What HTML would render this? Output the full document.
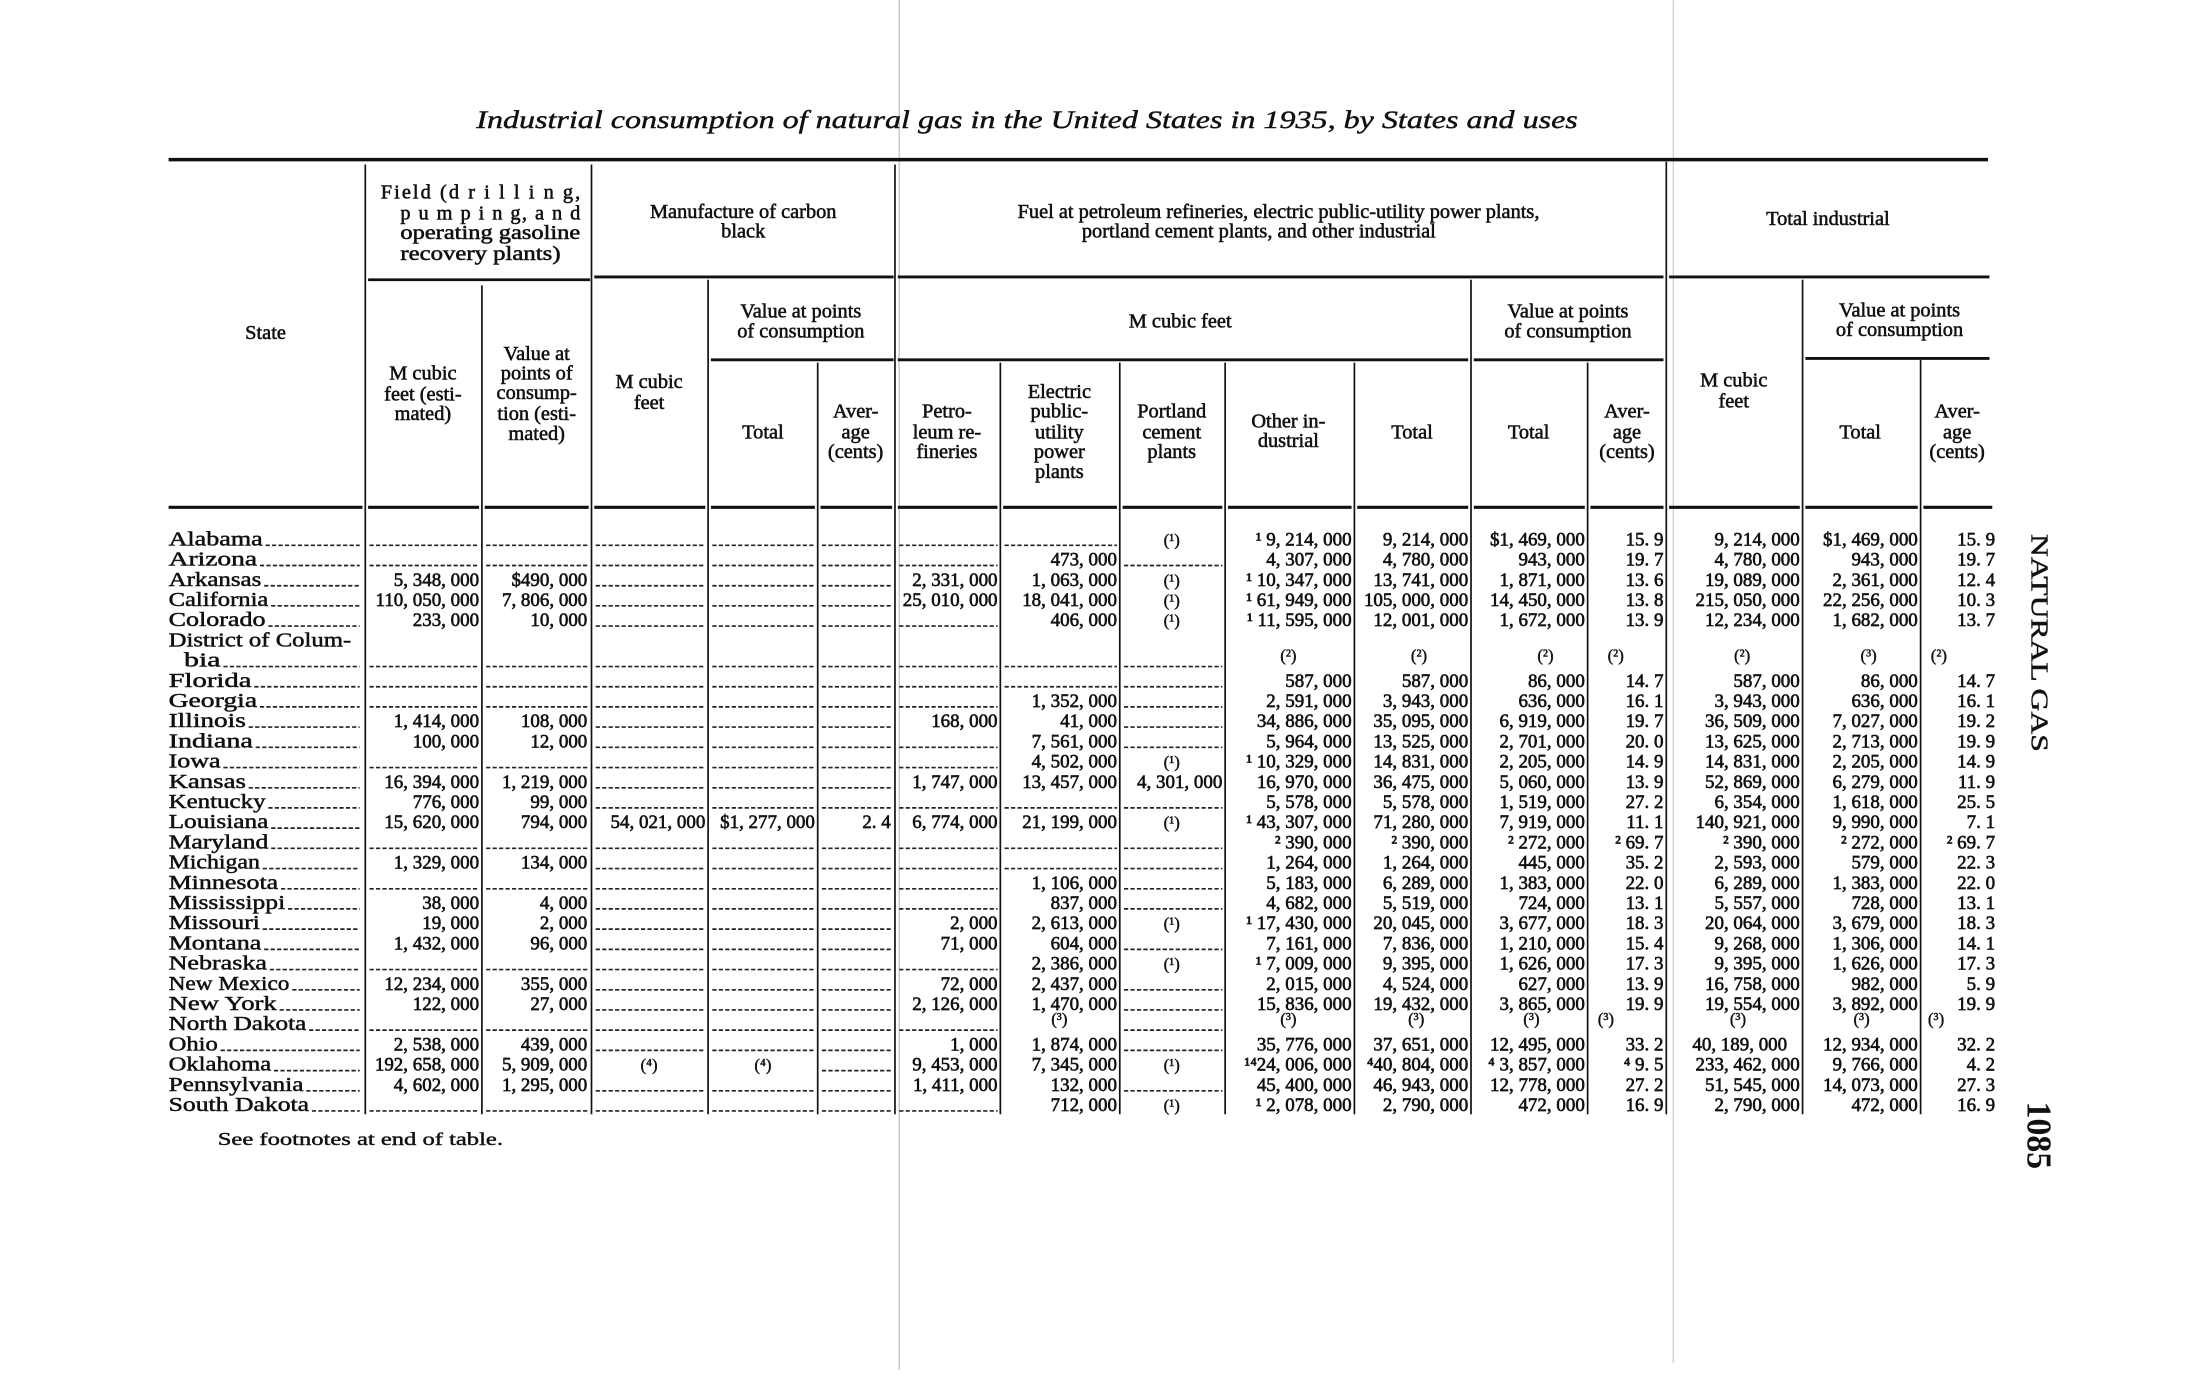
<!DOCTYPE html>
<html><head><meta charset="utf-8"><style>
html,body{margin:0;padding:0;background:#fff;}
svg{display:block}
text{font-family:"Liberation Serif",serif;fill:#111;}
.h{font-size:14.5px;text-anchor:middle;stroke:#111;stroke-width:0.4px;}
.hr{font-size:14.5px;text-anchor:end;stroke:#111;stroke-width:0.4px;}
.n{font-size:13.5px;text-anchor:end;stroke:#111;stroke-width:0.45px;}
.s{font-size:14.5px;stroke:#111;stroke-width:0.35px;}
.c{font-size:12px;text-anchor:middle;stroke:#111;stroke-width:0.3px;}
.d{stroke:#222;stroke-width:1.2;stroke-dasharray:3 1.6;fill:none}
.l{stroke:#111;fill:none}
</style></head><body>
<svg width="2203" height="1380" viewBox="0 0 1568 982" xmlns="http://www.w3.org/2000/svg">
<rect width="1568" height="982" fill="#fff"/>
<line x1="640" y1="0" x2="640" y2="975" stroke="#c8c8c8" stroke-width="1"/>
<line x1="1191" y1="0" x2="1191" y2="970" stroke="#d4d4d4" stroke-width="1"/>
<text x="339" y="91" font-size="18" font-style="italic" textLength="784" lengthAdjust="spacingAndGlyphs" stroke="#111" stroke-width="0.3">Industrial consumption of natural gas in the United States in 1935, by States and uses</text>
<path class="l" stroke-width="2.5" d="M120 113.5H1415"/>
<path class="l" stroke-width="2" d="M262 199H420M423 197H636M639 197H1184M1188 197H1416"/>
<path class="l" stroke-width="2" d="M506 256H636M639 256H1045M1049 256H1184M1285 255H1416"/>
<path class="l" stroke-width="2.2" d="M120 361H258M262 361H341M345 361H419M423 361H502M506 361H580M584 361H635M639 361H710M714 361H795M799 361H870M874 361H962M966 361H1045M1049 361H1128M1132 361H1184M1188 361H1281M1285 361H1365M1369 361H1418"/>
<path class="l" stroke-width="1.2" d="M260 117V793M343 203V793M421 117V793M504 199V793M582 258V793M637 117V793M712 258V793M797 258V793M872 258V793M964 258V793M1047 199V793M1130 258V793M1186 115V793M1283 199V793M1367 256V793"/>
<!-- headers -->
<text class="h" x="189" y="241">State</text>
<text class="hr" x="413" y="141" textLength="142" lengthAdjust="spacing">Field (d r i l l i n g,</text>
<text class="hr" x="413" y="156" textLength="128" lengthAdjust="spacing">p u m p i n g, a n d</text>
<text class="hr" x="413" y="170" textLength="128" lengthAdjust="spacingAndGlyphs">operating gasoline</text>
<text class="hr" x="399" y="185" textLength="114" lengthAdjust="spacingAndGlyphs">recovery plants)</text>
<text class="h" x="529" y="155">Manufacture of carbon</text>
<text class="h" x="529" y="169">black</text>
<text class="h" x="910" y="155">Fuel at petroleum refineries, electric public-utility power plants,</text>
<text class="h" x="896" y="169">portland cement plants, and other industrial</text>
<text class="h" x="1301" y="160">Total industrial</text>
<text class="h" x="301" y="270">M cubic</text><text class="h" x="301" y="285">feet (esti-</text><text class="h" x="301" y="299">mated)</text>
<text class="h" x="382" y="256">Value at</text><text class="h" x="382" y="270">points of</text><text class="h" x="382" y="284">consump-</text><text class="h" x="382" y="299">tion (esti-</text><text class="h" x="382" y="313">mated)</text>
<text class="h" x="462" y="276">M cubic</text><text class="h" x="462" y="291">feet</text>
<text class="h" x="570" y="226">Value at points</text><text class="h" x="570" y="240">of consumption</text>
<text class="h" x="543" y="312">Total</text>
<text class="h" x="609" y="297">Aver-</text><text class="h" x="609" y="312">age</text><text class="h" x="609" y="326">(cents)</text>
<text class="h" x="674" y="297">Petro-</text><text class="h" x="674" y="312">leum re-</text><text class="h" x="674" y="326">fineries</text>
<text class="h" x="754" y="283">Electric</text><text class="h" x="754" y="297">public-</text><text class="h" x="754" y="312">utility</text><text class="h" x="754" y="326">power</text><text class="h" x="754" y="340">plants</text>
<text class="h" x="834" y="297">Portland</text><text class="h" x="834" y="312">cement</text><text class="h" x="834" y="326">plants</text>
<text class="h" x="917" y="304">Other in-</text><text class="h" x="917" y="318">dustrial</text>
<text class="h" x="1005" y="312">Total</text>
<text class="h" x="840" y="233">M cubic feet</text>
<text class="h" x="1116" y="226">Value at points</text><text class="h" x="1116" y="240">of consumption</text>
<text class="h" x="1088" y="312">Total</text>
<text class="h" x="1158" y="297">Aver-</text><text class="h" x="1158" y="312">age</text><text class="h" x="1158" y="326">(cents)</text>
<text class="h" x="1234" y="275">M cubic</text><text class="h" x="1234" y="290">feet</text>
<text class="h" x="1352" y="225">Value at points</text><text class="h" x="1352" y="239">of consumption</text>
<text class="h" x="1324" y="312">Total</text>
<text class="h" x="1393" y="297">Aver-</text><text class="h" x="1393" y="312">age</text><text class="h" x="1393" y="326">(cents)</text>

<!-- rows -->
<g transform="translate(0,388)"><text class="s" x="120" textLength="67" lengthAdjust="spacingAndGlyphs">Alabama</text><path class="d" d="M189 0H256M263 0H340M346 0H418M424 0H502M507 0H580M585 0H634M640 0H710M715 0H795"/><text class="c" x="834">(¹)</text><text class="n" x="962">¹ 9, 214, 000</text><text class="n" x="1045">9, 214, 000</text><text class="n" x="1128">$1, 469, 000</text><text class="n" x="1184">15. 9</text><text class="n" x="1281">9, 214, 000</text><text class="n" x="1365">$1, 469, 000</text><text class="n" x="1420">15. 9</text></g>
<g transform="translate(0,402.4)"><text class="s" x="120" textLength="63" lengthAdjust="spacingAndGlyphs">Arizona</text><path class="d" d="M185 0H256M263 0H340M346 0H418M424 0H502M507 0H580M585 0H634M640 0H710M800 0H870"/><text class="n" x="795">473, 000</text><text class="n" x="962">4, 307, 000</text><text class="n" x="1045">4, 780, 000</text><text class="n" x="1128">943, 000</text><text class="n" x="1184">19. 7</text><text class="n" x="1281">4, 780, 000</text><text class="n" x="1365">943, 000</text><text class="n" x="1420">19. 7</text></g>
<g transform="translate(0,416.8)"><text class="s" x="120" textLength="66" lengthAdjust="spacingAndGlyphs">Arkansas</text><path class="d" d="M188 0H256M424 0H502M507 0H580M585 0H634"/><text class="n" x="341">5, 348, 000</text><text class="n" x="418">$490, 000</text><text class="n" x="710">2, 331, 000</text><text class="n" x="795">1, 063, 000</text><text class="c" x="834">(¹)</text><text class="n" x="962">¹ 10, 347, 000</text><text class="n" x="1045">13, 741, 000</text><text class="n" x="1128">1, 871, 000</text><text class="n" x="1184">13. 6</text><text class="n" x="1281">19, 089, 000</text><text class="n" x="1365">2, 361, 000</text><text class="n" x="1420">12. 4</text></g>
<g transform="translate(0,431.1)"><text class="s" x="120" textLength="71" lengthAdjust="spacingAndGlyphs">California</text><path class="d" d="M193 0H256M424 0H502M507 0H580M585 0H634"/><text class="n" x="341">110, 050, 000</text><text class="n" x="418">7, 806, 000</text><text class="n" x="710">25, 010, 000</text><text class="n" x="795">18, 041, 000</text><text class="c" x="834">(¹)</text><text class="n" x="962">¹ 61, 949, 000</text><text class="n" x="1045">105, 000, 000</text><text class="n" x="1128">14, 450, 000</text><text class="n" x="1184">13. 8</text><text class="n" x="1281">215, 050, 000</text><text class="n" x="1365">22, 256, 000</text><text class="n" x="1420">10. 3</text></g>
<g transform="translate(0,445.5)"><text class="s" x="120" textLength="69" lengthAdjust="spacingAndGlyphs">Colorado</text><path class="d" d="M191 0H256M424 0H502M507 0H580M585 0H634M640 0H710"/><text class="n" x="341">233, 000</text><text class="n" x="418">10, 000</text><text class="n" x="795">406, 000</text><text class="c" x="834">(¹)</text><text class="n" x="962">¹ 11, 595, 000</text><text class="n" x="1045">12, 001, 000</text><text class="n" x="1128">1, 672, 000</text><text class="n" x="1184">13. 9</text><text class="n" x="1281">12, 234, 000</text><text class="n" x="1365">1, 682, 000</text><text class="n" x="1420">13. 7</text></g>
<g transform="translate(0,459.9)"><text class="s" x="120" textLength="130" lengthAdjust="spacingAndGlyphs">District of Colum-</text></g>
<g transform="translate(0,474.3)"><text class="s" x="131" textLength="26" lengthAdjust="spacingAndGlyphs">bia</text><path class="d" d="M159 0H256M263 0H340M346 0H418M424 0H502M507 0H580M585 0H634M640 0H710M715 0H795M800 0H870"/><text class="c" x="917" y="-4">(²)</text><text class="c" x="1010" y="-4">(²)</text><text class="c" x="1100" y="-4">(²)</text><text class="c" x="1150" y="-4">(²)</text><text class="c" x="1240" y="-4">(²)</text><text class="c" x="1330" y="-4">(³)</text><text class="c" x="1380" y="-4">(²)</text></g>
<g transform="translate(0,488.7)"><text class="s" x="120" textLength="59" lengthAdjust="spacingAndGlyphs">Florida</text><path class="d" d="M181 0H256M263 0H340M346 0H418M424 0H502M507 0H580M585 0H634M640 0H710M715 0H795M800 0H870"/><text class="n" x="962">587, 000</text><text class="n" x="1045">587, 000</text><text class="n" x="1128">86, 000</text><text class="n" x="1184">14. 7</text><text class="n" x="1281">587, 000</text><text class="n" x="1365">86, 000</text><text class="n" x="1420">14. 7</text></g>
<g transform="translate(0,503)"><text class="s" x="120" textLength="63" lengthAdjust="spacingAndGlyphs">Georgia</text><path class="d" d="M185 0H256M263 0H340M346 0H418M424 0H502M507 0H580M585 0H634M640 0H710M800 0H870"/><text class="n" x="795">1, 352, 000</text><text class="n" x="962">2, 591, 000</text><text class="n" x="1045">3, 943, 000</text><text class="n" x="1128">636, 000</text><text class="n" x="1184">16. 1</text><text class="n" x="1281">3, 943, 000</text><text class="n" x="1365">636, 000</text><text class="n" x="1420">16. 1</text></g>
<g transform="translate(0,517.4)"><text class="s" x="120" textLength="55" lengthAdjust="spacingAndGlyphs">Illinois</text><path class="d" d="M177 0H256M424 0H502M507 0H580M585 0H634M800 0H870"/><text class="n" x="341">1, 414, 000</text><text class="n" x="418">108, 000</text><text class="n" x="710">168, 000</text><text class="n" x="795">41, 000</text><text class="n" x="962">34, 886, 000</text><text class="n" x="1045">35, 095, 000</text><text class="n" x="1128">6, 919, 000</text><text class="n" x="1184">19. 7</text><text class="n" x="1281">36, 509, 000</text><text class="n" x="1365">7, 027, 000</text><text class="n" x="1420">19. 2</text></g>
<g transform="translate(0,531.8)"><text class="s" x="120" textLength="60" lengthAdjust="spacingAndGlyphs">Indiana</text><path class="d" d="M182 0H256M424 0H502M507 0H580M585 0H634M640 0H710M800 0H870"/><text class="n" x="341">100, 000</text><text class="n" x="418">12, 000</text><text class="n" x="795">7, 561, 000</text><text class="n" x="962">5, 964, 000</text><text class="n" x="1045">13, 525, 000</text><text class="n" x="1128">2, 701, 000</text><text class="n" x="1184">20. 0</text><text class="n" x="1281">13, 625, 000</text><text class="n" x="1365">2, 713, 000</text><text class="n" x="1420">19. 9</text></g>
<g transform="translate(0,546.2)"><text class="s" x="120" textLength="37" lengthAdjust="spacingAndGlyphs">Iowa</text><path class="d" d="M159 0H256M263 0H340M346 0H418M424 0H502M507 0H580M585 0H634M640 0H710"/><text class="n" x="795">4, 502, 000</text><text class="c" x="834">(¹)</text><text class="n" x="962">¹ 10, 329, 000</text><text class="n" x="1045">14, 831, 000</text><text class="n" x="1128">2, 205, 000</text><text class="n" x="1184">14. 9</text><text class="n" x="1281">14, 831, 000</text><text class="n" x="1365">2, 205, 000</text><text class="n" x="1420">14. 9</text></g>
<g transform="translate(0,560.6)"><text class="s" x="120" textLength="55" lengthAdjust="spacingAndGlyphs">Kansas</text><path class="d" d="M177 0H256M424 0H502M507 0H580M585 0H634"/><text class="n" x="341">16, 394, 000</text><text class="n" x="418">1, 219, 000</text><text class="n" x="710">1, 747, 000</text><text class="n" x="795">13, 457, 000</text><text class="n" x="870">4, 301, 000</text><text class="n" x="962">16, 970, 000</text><text class="n" x="1045">36, 475, 000</text><text class="n" x="1128">5, 060, 000</text><text class="n" x="1184">13. 9</text><text class="n" x="1281">52, 869, 000</text><text class="n" x="1365">6, 279, 000</text><text class="n" x="1420">11. 9</text></g>
<g transform="translate(0,574.9)"><text class="s" x="120" textLength="69" lengthAdjust="spacingAndGlyphs">Kentucky</text><path class="d" d="M191 0H256M424 0H502M507 0H580M585 0H634M640 0H710M715 0H795M800 0H870"/><text class="n" x="341">776, 000</text><text class="n" x="418">99, 000</text><text class="n" x="962">5, 578, 000</text><text class="n" x="1045">5, 578, 000</text><text class="n" x="1128">1, 519, 000</text><text class="n" x="1184">27. 2</text><text class="n" x="1281">6, 354, 000</text><text class="n" x="1365">1, 618, 000</text><text class="n" x="1420">25. 5</text></g>
<g transform="translate(0,589.3)"><text class="s" x="120" textLength="71" lengthAdjust="spacingAndGlyphs">Louisiana</text><path class="d" d="M193 0H256"/><text class="n" x="341">15, 620, 000</text><text class="n" x="418">794, 000</text><text class="n" x="502">54, 021, 000</text><text class="n" x="580">$1, 277, 000</text><text class="n" x="634">2. 4</text><text class="n" x="710">6, 774, 000</text><text class="n" x="795">21, 199, 000</text><text class="c" x="834">(¹)</text><text class="n" x="962">¹ 43, 307, 000</text><text class="n" x="1045">71, 280, 000</text><text class="n" x="1128">7, 919, 000</text><text class="n" x="1184">11. 1</text><text class="n" x="1281">140, 921, 000</text><text class="n" x="1365">9, 990, 000</text><text class="n" x="1420">7. 1</text></g>
<g transform="translate(0,603.7)"><text class="s" x="120" textLength="71" lengthAdjust="spacingAndGlyphs">Maryland</text><path class="d" d="M193 0H256M263 0H340M346 0H418M424 0H502M507 0H580M585 0H634M640 0H710M715 0H795M800 0H870"/><text class="n" x="962">² 390, 000</text><text class="n" x="1045">² 390, 000</text><text class="n" x="1128">² 272, 000</text><text class="n" x="1184">² 69. 7</text><text class="n" x="1281">² 390, 000</text><text class="n" x="1365">² 272, 000</text><text class="n" x="1420">² 69. 7</text></g>
<g transform="translate(0,618.1)"><text class="s" x="120" textLength="65" lengthAdjust="spacingAndGlyphs">Michigan</text><path class="d" d="M187 0H256M424 0H502M507 0H580M585 0H634M640 0H710M715 0H795M800 0H870"/><text class="n" x="341">1, 329, 000</text><text class="n" x="418">134, 000</text><text class="n" x="962">1, 264, 000</text><text class="n" x="1045">1, 264, 000</text><text class="n" x="1128">445, 000</text><text class="n" x="1184">35. 2</text><text class="n" x="1281">2, 593, 000</text><text class="n" x="1365">579, 000</text><text class="n" x="1420">22. 3</text></g>
<g transform="translate(0,632.5)"><text class="s" x="120" textLength="78" lengthAdjust="spacingAndGlyphs">Minnesota</text><path class="d" d="M200 0H256M263 0H340M346 0H418M424 0H502M507 0H580M585 0H634M640 0H710M800 0H870"/><text class="n" x="795">1, 106, 000</text><text class="n" x="962">5, 183, 000</text><text class="n" x="1045">6, 289, 000</text><text class="n" x="1128">1, 383, 000</text><text class="n" x="1184">22. 0</text><text class="n" x="1281">6, 289, 000</text><text class="n" x="1365">1, 383, 000</text><text class="n" x="1420">22. 0</text></g>
<g transform="translate(0,646.8)"><text class="s" x="120" textLength="83" lengthAdjust="spacingAndGlyphs">Mississippi</text><path class="d" d="M205 0H256M424 0H502M507 0H580M585 0H634M640 0H710M800 0H870"/><text class="n" x="341">38, 000</text><text class="n" x="418">4, 000</text><text class="n" x="795">837, 000</text><text class="n" x="962">4, 682, 000</text><text class="n" x="1045">5, 519, 000</text><text class="n" x="1128">724, 000</text><text class="n" x="1184">13. 1</text><text class="n" x="1281">5, 557, 000</text><text class="n" x="1365">728, 000</text><text class="n" x="1420">13. 1</text></g>
<g transform="translate(0,661.2)"><text class="s" x="120" textLength="65" lengthAdjust="spacingAndGlyphs">Missouri</text><path class="d" d="M187 0H256M424 0H502M507 0H580M585 0H634"/><text class="n" x="341">19, 000</text><text class="n" x="418">2, 000</text><text class="n" x="710">2, 000</text><text class="n" x="795">2, 613, 000</text><text class="c" x="834">(¹)</text><text class="n" x="962">¹ 17, 430, 000</text><text class="n" x="1045">20, 045, 000</text><text class="n" x="1128">3, 677, 000</text><text class="n" x="1184">18. 3</text><text class="n" x="1281">20, 064, 000</text><text class="n" x="1365">3, 679, 000</text><text class="n" x="1420">18. 3</text></g>
<g transform="translate(0,675.6)"><text class="s" x="120" textLength="66" lengthAdjust="spacingAndGlyphs">Montana</text><path class="d" d="M188 0H256M424 0H502M507 0H580M585 0H634M800 0H870"/><text class="n" x="341">1, 432, 000</text><text class="n" x="418">96, 000</text><text class="n" x="710">71, 000</text><text class="n" x="795">604, 000</text><text class="n" x="962">7, 161, 000</text><text class="n" x="1045">7, 836, 000</text><text class="n" x="1128">1, 210, 000</text><text class="n" x="1184">15. 4</text><text class="n" x="1281">9, 268, 000</text><text class="n" x="1365">1, 306, 000</text><text class="n" x="1420">14. 1</text></g>
<g transform="translate(0,690)"><text class="s" x="120" textLength="70" lengthAdjust="spacingAndGlyphs">Nebraska</text><path class="d" d="M192 0H256M263 0H340M346 0H418M424 0H502M507 0H580M585 0H634M640 0H710"/><text class="n" x="795">2, 386, 000</text><text class="c" x="834">(¹)</text><text class="n" x="962">¹ 7, 009, 000</text><text class="n" x="1045">9, 395, 000</text><text class="n" x="1128">1, 626, 000</text><text class="n" x="1184">17. 3</text><text class="n" x="1281">9, 395, 000</text><text class="n" x="1365">1, 626, 000</text><text class="n" x="1420">17. 3</text></g>
<g transform="translate(0,704.4)"><text class="s" x="120" textLength="86" lengthAdjust="spacingAndGlyphs">New Mexico</text><path class="d" d="M208 0H256M424 0H502M507 0H580M585 0H634M800 0H870"/><text class="n" x="341">12, 234, 000</text><text class="n" x="418">355, 000</text><text class="n" x="710">72, 000</text><text class="n" x="795">2, 437, 000</text><text class="n" x="962">2, 015, 000</text><text class="n" x="1045">4, 524, 000</text><text class="n" x="1128">627, 000</text><text class="n" x="1184">13. 9</text><text class="n" x="1281">16, 758, 000</text><text class="n" x="1365">982, 000</text><text class="n" x="1420">5. 9</text></g>
<g transform="translate(0,718.7)"><text class="s" x="120" textLength="77" lengthAdjust="spacingAndGlyphs">New York</text><path class="d" d="M199 0H256M424 0H502M507 0H580M585 0H634M800 0H870"/><text class="n" x="341">122, 000</text><text class="n" x="418">27, 000</text><text class="n" x="710">2, 126, 000</text><text class="n" x="795">1, 470, 000</text><text class="n" x="962">15, 836, 000</text><text class="n" x="1045">19, 432, 000</text><text class="n" x="1128">3, 865, 000</text><text class="n" x="1184">19. 9</text><text class="n" x="1281">19, 554, 000</text><text class="n" x="1365">3, 892, 000</text><text class="n" x="1420">19. 9</text></g>
<g transform="translate(0,733.1)"><text class="s" x="120" textLength="98" lengthAdjust="spacingAndGlyphs">North Dakota</text><path class="d" d="M220 0H256M263 0H340M346 0H418M424 0H502M507 0H580M585 0H634M640 0H710M800 0H870"/><text class="c" x="754" y="-4">(³)</text><text class="c" x="917" y="-4">(³)</text><text class="c" x="1008" y="-4">(³)</text><text class="c" x="1090" y="-4">(³)</text><text class="c" x="1143" y="-4">(³)</text><text class="c" x="1237" y="-4">(³)</text><text class="c" x="1325" y="-4">(³)</text><text class="c" x="1378" y="-4">(³)</text></g>
<g transform="translate(0,747.5)"><text class="s" x="120" textLength="35" lengthAdjust="spacingAndGlyphs">Ohio</text><path class="d" d="M157 0H256M424 0H502M507 0H580M585 0H634M800 0H870"/><text class="n" x="341">2, 538, 000</text><text class="n" x="418">439, 000</text><text class="n" x="710">1, 000</text><text class="n" x="795">1, 874, 000</text><text class="n" x="962">35, 776, 000</text><text class="n" x="1045">37, 651, 000</text><text class="n" x="1128">12, 495, 000</text><text class="n" x="1184">33. 2</text><text class="n" x="1272">40, 189, 000</text><text class="n" x="1365">12, 934, 000</text><text class="n" x="1420">32. 2</text></g>
<g transform="translate(0,761.9)"><text class="s" x="120" textLength="73" lengthAdjust="spacingAndGlyphs">Oklahoma</text><path class="d" d="M195 0H256M585 0H634"/><text class="n" x="341">192, 658, 000</text><text class="n" x="418">5, 909, 000</text><text class="c" x="462">(⁴)</text><text class="c" x="543">(⁴)</text><text class="n" x="710">9, 453, 000</text><text class="n" x="795">7, 345, 000</text><text class="c" x="834">(¹)</text><text class="n" x="962">¹⁴24, 006, 000</text><text class="n" x="1045">⁴40, 804, 000</text><text class="n" x="1128">⁴ 3, 857, 000</text><text class="n" x="1184">⁴ 9. 5</text><text class="n" x="1281">233, 462, 000</text><text class="n" x="1365">9, 766, 000</text><text class="n" x="1420">4. 2</text></g>
<g transform="translate(0,776.3)"><text class="s" x="120" textLength="96" lengthAdjust="spacingAndGlyphs">Pennsylvania</text><path class="d" d="M218 0H256M424 0H502M507 0H580M585 0H634M800 0H870"/><text class="n" x="341">4, 602, 000</text><text class="n" x="418">1, 295, 000</text><text class="n" x="710">1, 411, 000</text><text class="n" x="795">132, 000</text><text class="n" x="962">45, 400, 000</text><text class="n" x="1045">46, 943, 000</text><text class="n" x="1128">12, 778, 000</text><text class="n" x="1184">27. 2</text><text class="n" x="1281">51, 545, 000</text><text class="n" x="1365">14, 073, 000</text><text class="n" x="1420">27. 3</text></g>
<g transform="translate(0,790.6)"><text class="s" x="120" textLength="100" lengthAdjust="spacingAndGlyphs">South Dakota</text><path class="d" d="M222 0H256M263 0H340M346 0H418M424 0H502M507 0H580M585 0H634M640 0H710"/><text class="n" x="795">712, 000</text><text class="c" x="834">(¹)</text><text class="n" x="962">¹ 2, 078, 000</text><text class="n" x="1045">2, 790, 000</text><text class="n" x="1128">472, 000</text><text class="n" x="1184">16. 9</text><text class="n" x="1281">2, 790, 000</text><text class="n" x="1365">472, 000</text><text class="n" x="1420">16. 9</text></g>

<text x="155" y="815" font-size="13" textLength="203" lengthAdjust="spacingAndGlyphs" stroke="#111" stroke-width="0.3">See footnotes at end of table.</text>
<text transform="translate(1446,380) rotate(90)" font-size="17" textLength="155" lengthAdjust="spacingAndGlyphs" stroke="#111" stroke-width="0.3">NATURAL GAS</text>
<text transform="translate(1443,784) rotate(90)" font-size="25" font-weight="bold" textLength="48" lengthAdjust="spacingAndGlyphs">1085</text>
</svg>
</body></html>
